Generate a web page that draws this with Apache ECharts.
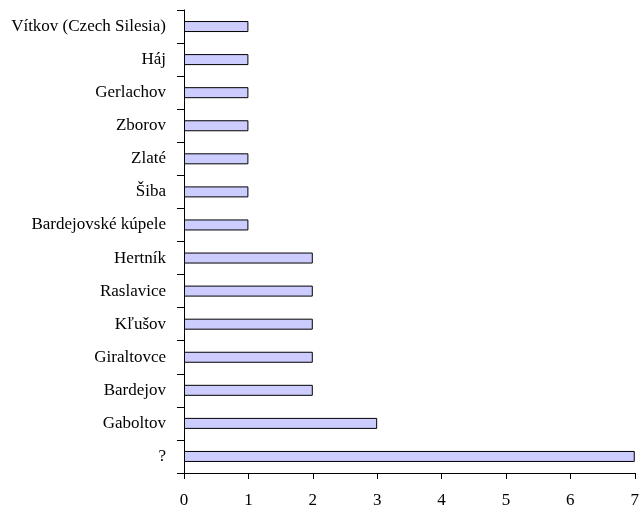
<!DOCTYPE html>
<html><head><meta charset="utf-8">
<script src="https://cdn.jsdelivr.net/npm/echarts@6/dist/echarts.min.js"></script>
<style>html,body{margin:0;padding:0;background:#fff}#c{width:642px;height:512px}</style>
</head><body><div id="c"></div>
<script>
const categories = ["?", "Gaboltov", "Bardejov", "Giraltovce", "Kľušov", "Raslavice", "Hertník", "Bardejovské kúpele", "Šiba", "Zlaté", "Zborov", "Gerlachov", "Háj", "Vítkov (Czech Silesia)"];
const values = [7, 3, 2, 2, 2, 2, 2, 1, 1, 1, 1, 1, 1, 1];
const xTicks = [0, 1, 2, 3, 4, 5, 6, 7];

const chart = echarts.init(document.getElementById('c'), null, {renderer: 'canvas'});
const font = {fontFamily: '"Liberation Serif", "Times New Roman", serif', fontSize: 17, color: '#000'};
chart.setOption({
  animation: false,
  grid: {left: 184, right: 4, top: 10, bottom: 39, containLabel: false},
  xAxis: {
    type: 'value', min: xTicks[0], max: xTicks[xTicks.length - 1], interval: 1,
    axisLine: {show: true, lineStyle: {color: '#000', width: 1}},
    axisTick: {show: true, length: 6, lineStyle: {color: '#000'}},
    axisLabel: Object.assign({margin: 19}, font),
    splitLine: {show: false}
  },
  yAxis: {
    type: 'category', data: categories,
    axisLine: {show: true, lineStyle: {color: '#000', width: 1}},
    axisTick: {show: true, length: 7, alignWithLabel: false, lineStyle: {color: '#000'}},
    axisLabel: Object.assign({margin: 18}, font)
  },
  series: [{
    type: 'bar', data: values, barWidth: 11,
    itemStyle: {color: '#ccccff', borderColor: '#000', borderWidth: 1}
  }]
});
</script></body></html>
